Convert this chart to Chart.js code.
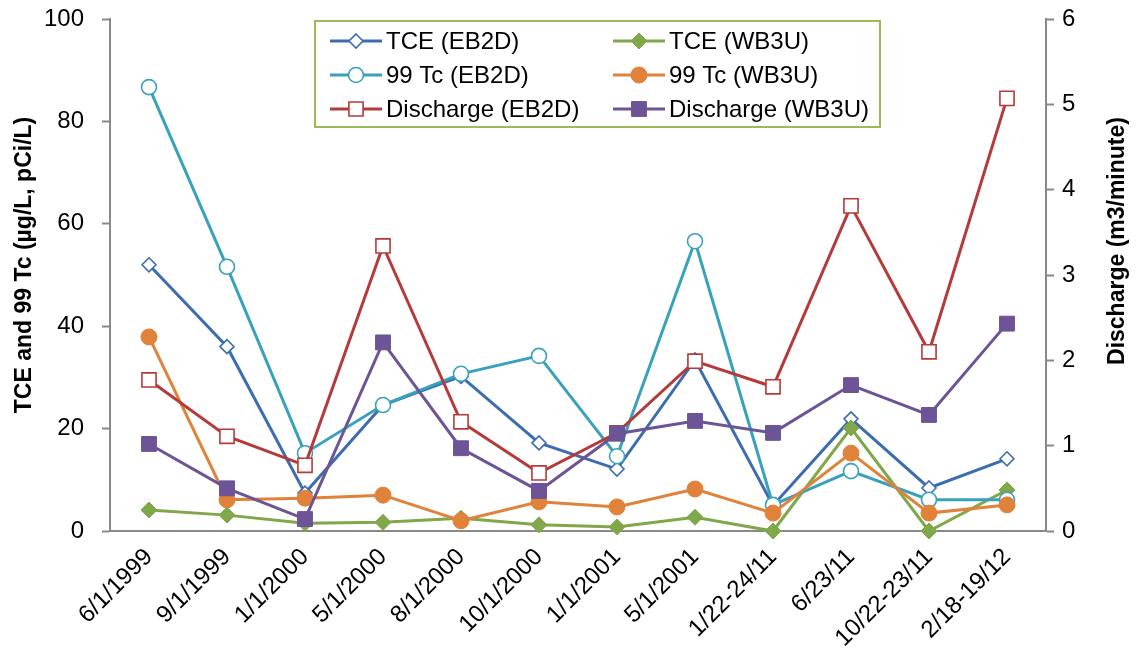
<!DOCTYPE html>
<html>
<head>
<meta charset="utf-8">
<title>TCE, 99 Tc and Discharge</title>
<script src="https://cdn.jsdelivr.net/npm/chart.js@4/dist/chart.umd.min.js"></script>
<style>
  html, body { margin: 0; padding: 0; background: #fff; }
  #wrap { position: relative; width: 1136px; height: 662px; }
</style>
</head>
<body>
<div id="wrap"><canvas id="chart"></canvas></div>
<script>
// sampling dates (mixed date formats kept as labelled)
const sampleDates = [
  '6/1/1999', '9/1/1999', '1/1/2000', '5/1/2000', '8/1/2000', '10/1/2000',
  '1/1/2001', '5/1/2001', '1/22-24/11', '6/23/11', '10/22-23/11', '2/18-19/12'
];

// concentrations, left axis (µg/L for TCE, pCi/L for 99 Tc)
const tceEB2D = [52, 36, 7.4, 24.6, 30.2, 17.2, 12.1, 33.4, 5, 21.9, 8.4, 14.1];
const tceWB3U = [4.1, 3.1, 1.5, 1.7, 2.5, 1.2, 0.8, 2.7, 0, 20.1, 0, 8];
const tcEB2D = [86.7, 51.6, 15.2, 24.6, 30.7, 34.2, 14.6, 56.6, 5.1, 11.7, 6.1, 6.1];
const tcWB3U = [37.9, 6.1, 6.4, 7, 2, 5.7, 4.7, 8.2, 3.5, 15.2, 3.5, 5.1];

// discharge, right axis (m3/minute)
const dischargeEB2D = [1.77, 1.11, 0.77, 3.34, 1.28, 0.68, 1.15, 1.99, 1.69, 3.81, 2.1, 5.07];
const dischargeWB3U = [1.02, 0.5, 0.14, 2.21, 0.97, 0.47, 1.14, 1.29, 1.15, 1.71, 1.36, 2.43];

const leftTicks = [0, 20, 40, 60, 80, 100];
const rightTicks = [0, 1, 2, 3, 4, 5, 6];

const FONT = '"Liberation Sans", Arial, sans-serif';
const AXIS_GREY = '#898989';

function series(label, data, axis, color, style, radius, hollow) {
  return {
    label: label,
    data: data,
    yAxisID: axis,
    borderColor: color,
    backgroundColor: color,
    borderWidth: 3,
    pointStyle: style,
    pointRadius: radius,
    pointHoverRadius: radius,
    pointBorderColor: color,
    pointBackgroundColor: hollow ? '#ffffff' : color,
    pointBorderWidth: hollow ? 1.6 : 1,
    tension: 0,
    clip: false
  };
}

const datasets = [
  series('TCE (EB2D)', tceEB2D, 'y', '#3d6db0', 'rectRot', 7, true),
  series('TCE (WB3U)', tceWB3U, 'y', '#80a84a', 'rectRot', 8, false),
  series('99 Tc (EB2D)', tcEB2D, 'y', '#38a1bc', 'circle', 7.5, true),
  series('99 Tc (WB3U)', tcWB3U, 'y', '#e0823a', 'circle', 8, false),
  series('Discharge (EB2D)', dischargeEB2D, 'y2', '#b43b39', 'rect', 10, true),
  series('Discharge (WB3U)', dischargeWB3U, 'y2', '#6c5496', 'rect', 10.5, false)
];
// later series are painted over earlier ones
datasets.forEach((d, i) => { d.order = datasets.length - i; });

// small marker painter for the legend samples
function drawMarker(ctx, ds, x, y) {
  const r = ds.pointRadius;
  ctx.save();
  ctx.beginPath();
  if (ds.pointStyle === 'circle') {
    ctx.arc(x, y, r, 0, Math.PI * 2);
  } else if (ds.pointStyle === 'rectRot') {
    ctx.moveTo(x, y - r);
    ctx.lineTo(x + r, y);
    ctx.lineTo(x, y + r);
    ctx.lineTo(x - r, y);
    ctx.closePath();
  } else {
    const s = r * Math.SQRT1_2;
    ctx.rect(x - s, y - s, 2 * s, 2 * s);
  }
  ctx.fillStyle = ds.pointBackgroundColor;
  ctx.fill();
  ctx.lineWidth = ds.pointBorderWidth;
  ctx.strokeStyle = ds.pointBorderColor;
  ctx.stroke();
  ctx.restore();
}

// boxed two-column legend sitting inside the plot
const boxedLegend = {
  id: 'boxedLegend',
  afterDraw(chart) {
    const ctx = chart.ctx;
    const box = { x: 315, y: 21, w: 565, h: 106 };
    ctx.save();
    ctx.fillStyle = '#ffffff';
    ctx.fillRect(box.x, box.y, box.w, box.h);
    ctx.lineWidth = 2;
    ctx.strokeStyle = '#9bbb59';
    ctx.strokeRect(box.x, box.y, box.w, box.h);
    ctx.font = '24px ' + FONT;
    ctx.textBaseline = 'middle';
    ctx.fillStyle = '#000000';
    const cols = [330, 613];
    const rows = [41, 75, 109];
    chart.data.datasets.forEach((ds, i) => {
      const x = cols[i % 2];
      const y = rows[Math.floor(i / 2)];
      ctx.beginPath();
      ctx.moveTo(x, y);
      ctx.lineTo(x + 52, y);
      ctx.lineWidth = 3;
      ctx.strokeStyle = ds.borderColor;
      ctx.stroke();
      drawMarker(ctx, ds, x + 26, y);
      ctx.fillStyle = '#000000';
      ctx.fillText(ds.label, x + 56, y + 1);
    });
    ctx.restore();
  }
};

// both axis titles read bottom-to-top
function verticalTitle(ctx, text, x, y) {
  ctx.save();
  ctx.font = 'bold 23px ' + FONT;
  ctx.fillStyle = '#000000';
  ctx.textAlign = 'center';
  ctx.textBaseline = 'middle';
  ctx.translate(x, y);
  ctx.rotate(-Math.PI / 2);
  ctx.fillText(text, 0, 0);
  ctx.restore();
}

const axisTitles = {
  id: 'axisTitles',
  afterDraw(chart) {
    verticalTitle(chart.ctx, 'TCE and 99 Tc (µg/L, pCi/L)', 25, 265);
    verticalTitle(chart.ctx, 'Discharge (m3/minute)', 1118, 241);
  }
};

// fixed axis thickness; top/bottom room comes from layout padding only
function fixedWidth(w) {
  return function (scale) {
    scale.width = w;
    scale.paddingTop = 0;
    scale.paddingBottom = 0;
  };
}

new Chart(document.getElementById('chart'), {
  type: 'line',
  data: {
    labels: sampleDates,
    datasets: datasets
  },
  plugins: [boxedLegend, axisTitles],
  options: {
    responsive: true,
    maintainAspectRatio: false,
    animation: false,
    events: [],
    layout: { padding: { top: 19, left: 0, right: 0, bottom: 0 } },
    plugins: {
      legend: { display: false },
      tooltip: { enabled: false }
    },
    scales: {
      x: {
        offset: true,
        grid: { display: false },
        border: { display: true, color: AXIS_GREY, width: 2 },
        ticks: {
          autoSkip: false,
          minRotation: 45,
          maxRotation: 45,
          padding: 4,
          color: '#000000',
          font: { family: FONT, size: 24 }
        },
        afterFit(scale) { scale.height = 131; }
      },
      y: {
        position: 'left',
        min: 0,
        max: 100,
        afterBuildTicks(scale) { scale.ticks = leftTicks.map(v => ({ value: v })); },
        grid: {
          drawOnChartArea: false,
          tickLength: 8,
          tickColor: AXIS_GREY,
          tickWidth: 2
        },
        border: { display: true, color: AXIS_GREY, width: 2 },
        ticks: {
          padding: 18,
          color: '#000000',
          font: { family: FONT, size: 24 }
        },
        afterFit: fixedWidth(110)
      },
      y2: {
        position: 'right',
        min: 0,
        max: 6,
        afterBuildTicks(scale) { scale.ticks = rightTicks.map(v => ({ value: v })); },
        grid: {
          drawOnChartArea: false,
          tickLength: 8,
          tickColor: AXIS_GREY,
          tickWidth: 2
        },
        border: { display: true, color: AXIS_GREY, width: 2 },
        ticks: {
          padding: 8,
          color: '#000000',
          font: { family: FONT, size: 24 }
        },
        afterFit: fixedWidth(90)
      }
    }
  }
});
</script>
</body>
</html>
